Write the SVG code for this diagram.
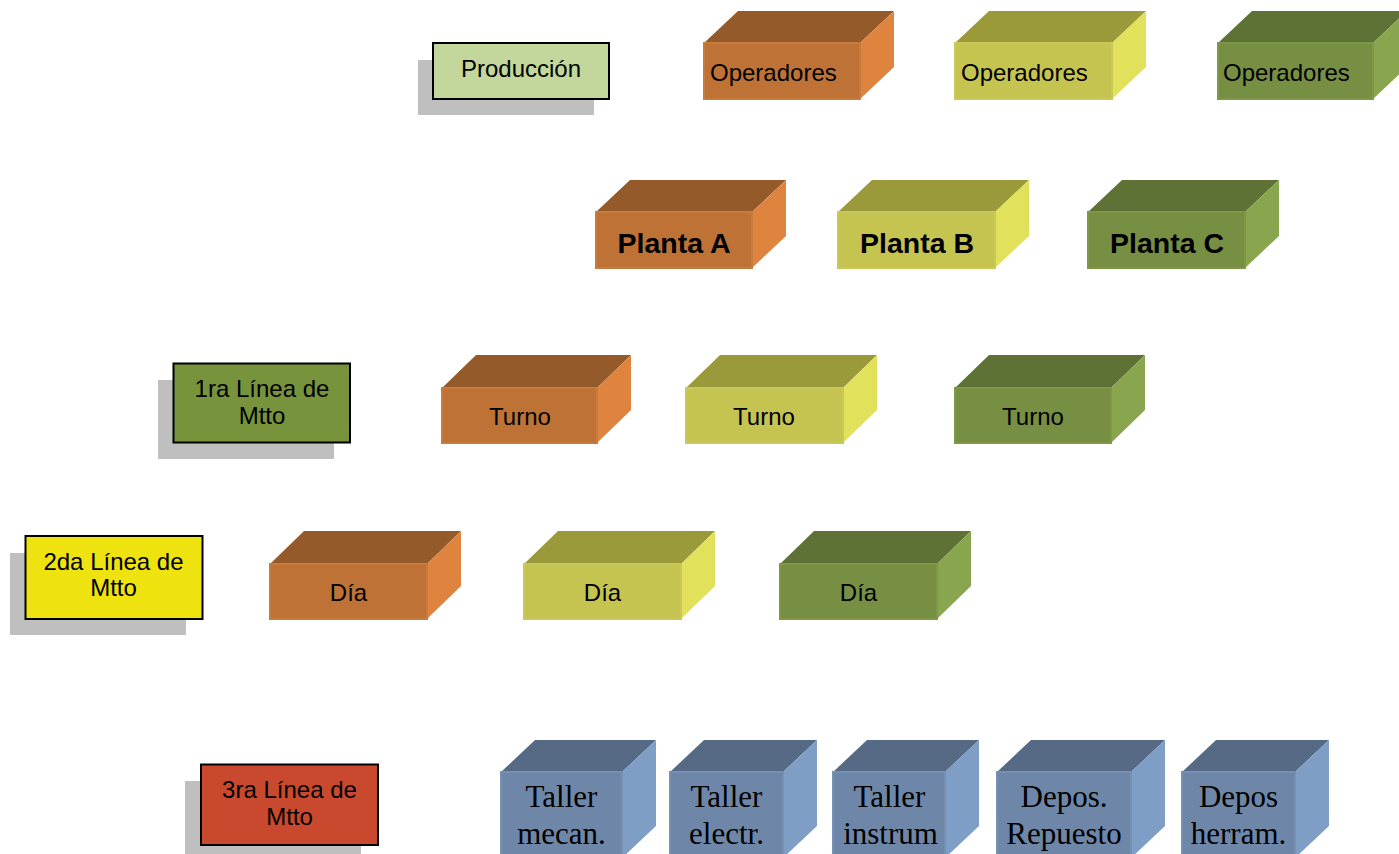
<svg xmlns="http://www.w3.org/2000/svg" width="1399" height="854" viewBox="0 0 1399 854">
<style>
.sans{font-family:"Liberation Sans",Arial,sans-serif;fill:#000;font-size:24px}
.serif{font-family:"Liberation Serif","Times New Roman",serif;fill:#000;font-size:31px;text-anchor:middle}
.shadow{fill:#BFBFBF}
.lbl{stroke:#000;stroke-width:2}
.o-top{fill:#945A29}.o-front{fill:#BE7236;stroke:#C77C3E;stroke-width:2}.o-side{fill:#DE843F}
.y-top{fill:#9A9A3B}.y-front{fill:#C6C450;stroke:#CBC85A;stroke-width:2}.y-side{fill:#E2E15B}
.g-top{fill:#5E7236}.g-front{fill:#778F43;stroke:#7E9848;stroke-width:2}.g-side{fill:#89A64E}
.b-top{fill:#566A85}.b-front{fill:#6E87A9;stroke:#7690B3;stroke-width:2}.b-side{fill:#7E9EC6}
.mid{text-anchor:middle}
.bold{font-size:28.5px;font-weight:bold;text-anchor:middle}
</style>
<rect width="1399" height="854" fill="#fff"/>
<g id="connectors"/>

<g id="produccion">
<rect class="shadow" x="418" y="60" width="176" height="55"/>
<rect class="lbl" x="433" y="43" width="176" height="56" fill="#C3D69B"/>
<text class="sans mid" x="521" y="77">Producción</text>
</g>

<g id="linea1">
<rect class="shadow" x="158" y="380" width="176" height="79"/>
<rect class="lbl" x="173.5" y="363.5" width="176.5" height="79" fill="#77933C"/>
<text class="sans mid" x="262" y="397">1ra Línea de</text>
<text class="sans mid" x="262" y="424">Mtto</text>
</g>

<g id="linea2">
<rect class="shadow" x="10" y="553" width="176" height="82"/>
<rect class="lbl" x="25.5" y="536" width="177" height="83" fill="#EEE20F"/>
<text class="sans mid" x="113.5" y="570">2da Línea de</text>
<text class="sans mid" x="113.5" y="596">Mtto</text>
</g>

<g id="linea3">
<rect class="shadow" x="185" y="781" width="176" height="80"/>
<rect class="lbl" x="201" y="764.5" width="177" height="80.5" fill="#C8492D"/>
<text class="sans mid" x="289.5" y="798">3ra Línea de</text>
<text class="sans mid" x="289.5" y="825">Mtto</text>
</g>

<g id="operadores-a">
<polygon class="o-top" points="704,43 738,11 894,11 860,43"/>
<polygon class="o-side" points="860,43 894,11 894,67 860,99"/>
<rect class="o-front" x="704" y="43" width="156" height="56"/>
<text class="sans" x="710" y="81">Operadores</text>
</g>
<g id="operadores-b">
<polygon class="y-top" points="955,43 989,11 1146,11 1112,43"/>
<polygon class="y-side" points="1112,43 1146,11 1146,67 1112,99"/>
<rect class="y-front" x="955" y="43" width="157" height="56"/>
<text class="sans" x="961" y="81">Operadores</text>
</g>
<g id="operadores-c">
<polygon class="g-top" points="1218,43 1252,11 1407,11 1373,43"/>
<polygon class="g-side" points="1373,43 1407,11 1407,67 1373,99"/>
<rect class="g-front" x="1218" y="43" width="155" height="56"/>
<text class="sans" x="1223" y="81">Operadores</text>
</g>

<g id="planta-a">
<polygon class="o-top" points="596,212 630,180 786,180 752,212"/>
<polygon class="o-side" points="752,212 786,180 786,236 752,268"/>
<rect class="o-front" x="596" y="212" width="156" height="56"/>
<text class="sans bold" x="674" y="253">Planta A</text>
</g>
<g id="planta-b">
<polygon class="y-top" points="838,212 872,180 1029,180 995,212"/>
<polygon class="y-side" points="995,212 1029,180 1029,236 995,268"/>
<rect class="y-front" x="838" y="212" width="157" height="56"/>
<text class="sans bold" x="917" y="253">Planta B</text>
</g>
<g id="planta-c">
<polygon class="g-top" points="1088,212 1122,180 1279,180 1245,212"/>
<polygon class="g-side" points="1245,212 1279,180 1279,236 1245,268"/>
<rect class="g-front" x="1088" y="212" width="157" height="56"/>
<text class="sans bold" x="1167" y="253">Planta C</text>
</g>

<g id="turno-a">
<polygon class="o-top" points="442,388 476,355 631,355 597,388"/>
<polygon class="o-side" points="597,388 631,355 631,410 597,443"/>
<rect class="o-front" x="442" y="388" width="155" height="55"/>
<text class="sans mid" x="520" y="425">Turno</text>
</g>
<g id="turno-b">
<polygon class="y-top" points="686,388 720,355 877,355 843,388"/>
<polygon class="y-side" points="843,388 877,355 877,410 843,443"/>
<rect class="y-front" x="686" y="388" width="157" height="55"/>
<text class="sans mid" x="764" y="425">Turno</text>
</g>
<g id="turno-c">
<polygon class="g-top" points="955,388 989,355 1145,355 1111,388"/>
<polygon class="g-side" points="1111,388 1145,355 1145,410 1111,443"/>
<rect class="g-front" x="955" y="388" width="156" height="55"/>
<text class="sans mid" x="1033" y="425">Turno</text>
</g>

<g id="dia-a">
<polygon class="o-top" points="270,564 304,531 461,531 427,564"/>
<polygon class="o-side" points="427,564 461,531 461,586 427,619"/>
<rect class="o-front" x="270" y="564" width="157" height="55"/>
<text class="sans mid" x="348.5" y="601">Día</text>
</g>
<g id="dia-b">
<polygon class="y-top" points="524,564 558,531 715,531 681,564"/>
<polygon class="y-side" points="681,564 715,531 715,586 681,619"/>
<rect class="y-front" x="524" y="564" width="157" height="55"/>
<text class="sans mid" x="602.5" y="601">Día</text>
</g>
<g id="dia-c">
<polygon class="g-top" points="780,564 814,531 971,531 937,564"/>
<polygon class="g-side" points="937,564 971,531 971,586 937,619"/>
<rect class="g-front" x="780" y="564" width="157" height="55"/>
<text class="sans mid" x="858.5" y="601">Día</text>
</g>

<g id="taller-mecan">
<polygon class="b-top" points="501,772 535,740 656,740 622,772"/>
<polygon class="b-side" points="622,772 656,740 656,826 622,858"/>
<rect class="b-front" x="501" y="772" width="121" height="86"/>
<text class="serif" x="561.5" y="807">Taller</text>
<text class="serif" x="561.5" y="844">mecan.</text>
</g>
<g id="taller-electr">
<polygon class="b-top" points="670,772 704,740 817,740 783,772"/>
<polygon class="b-side" points="783,772 817,740 817,826 783,858"/>
<rect class="b-front" x="670" y="772" width="113" height="86"/>
<text class="serif" x="726.5" y="807">Taller</text>
<text class="serif" x="726.5" y="844">electr.</text>
</g>
<g id="taller-instrum">
<polygon class="b-top" points="833,772 867,740 979,740 945,772"/>
<polygon class="b-side" points="945,772 979,740 979,826 945,858"/>
<rect class="b-front" x="833" y="772" width="112" height="86"/>
<text class="serif" x="889.5" y="807">Taller</text>
<text class="serif" x="890.5" y="844">instrum</text>
</g>
<g id="depos-repuesto">
<polygon class="b-top" points="997,772 1031,740 1165,740 1131,772"/>
<polygon class="b-side" points="1131,772 1165,740 1165,826 1131,858"/>
<rect class="b-front" x="997" y="772" width="134" height="86"/>
<text class="serif" x="1064" y="807">Depos.</text>
<text class="serif" x="1064" y="844">Repuesto</text>
</g>
<g id="depos-herram">
<polygon class="b-top" points="1182,772 1216,740 1329,740 1295,772"/>
<polygon class="b-side" points="1295,772 1329,740 1329,826 1295,858"/>
<rect class="b-front" x="1182" y="772" width="113" height="86"/>
<text class="serif" x="1238.5" y="807">Depos</text>
<text class="serif" x="1238.5" y="844">herram.</text>
</g>
</svg>
